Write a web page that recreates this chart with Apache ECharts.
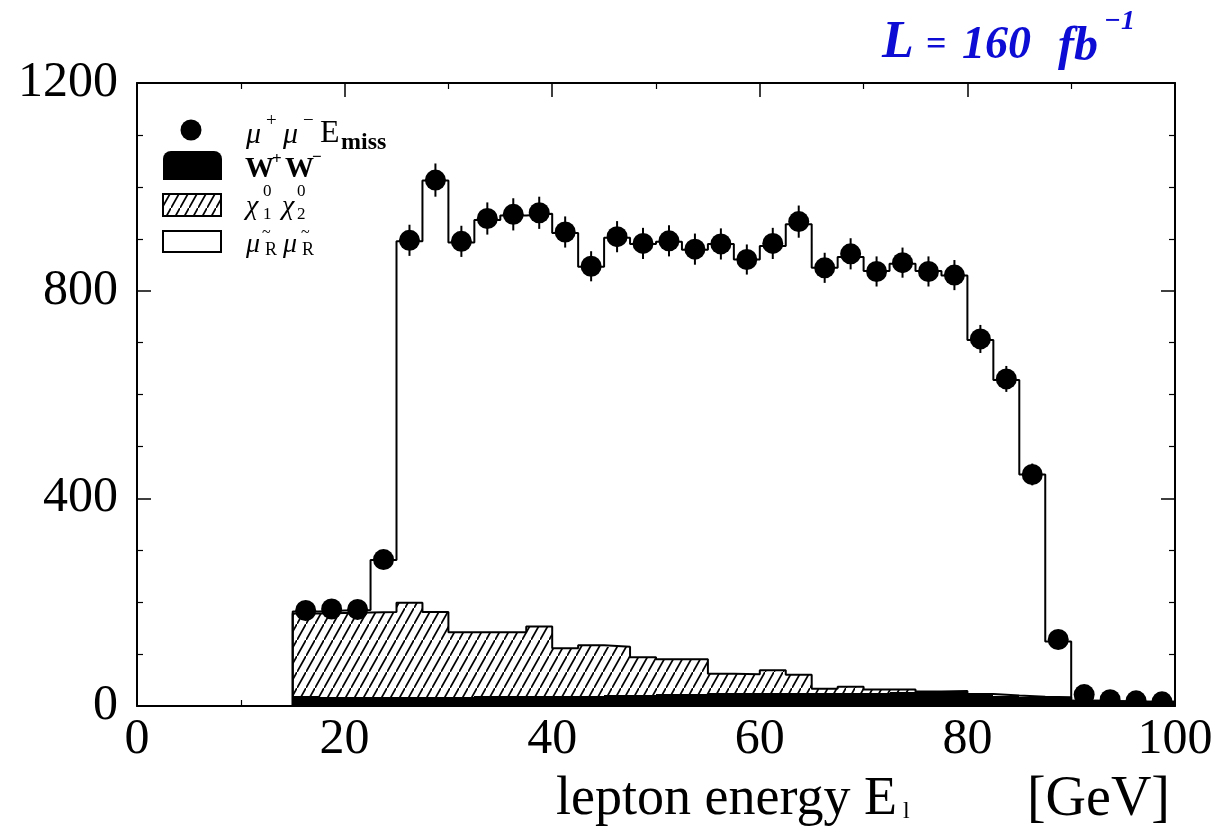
<!DOCTYPE html>
<html><head><meta charset="utf-8">
<script src="https://cdn.jsdelivr.net/npm/echarts@6/dist/echarts.min.js"></script>
<style>html,body{margin:0;padding:0;background:#fff}#c{width:1225px;height:835px}</style>
</head><body><div id="c"></div>
<script>
// ---- data (bins of 2.5 GeV, lower edges) ----
const binLow = [15, 17.5, 20, 22.5, 25, 27.5, 30, 32.5, 35, 37.5, 40, 42.5, 45, 47.5, 50, 52.5, 55, 57.5, 60, 62.5, 65, 67.5, 70, 72.5, 75, 77.5, 80, 82.5, 85, 87.5, 90, 92.5, 95, 97.5];
const binWidth = 2.5;
const wwCounts = [19, 18, 18, 18, 18, 18, 18, 19, 19, 19, 20, 20, 21, 22, 23, 24, 25, 26, 26, 26, 25, 26, 26, 27, 28, 29, 23, 20, 18, 17, 10, 9, 8, 8];
const chiCounts = [159, 161, 162, 163, 181, 163, 124, 123, 123, 134, 91, 97, 93, 72, 67, 66, 37, 35, 43, 34, 8, 11, 6, 5, 0, 0, 0, 0, 0, 0, 0, 0, 0, 0];
const smuonCounts = [4, 5, 5, 100, 696, 831, 751, 794, 803, 795, 800, 729, 788, 796, 804, 789, 828, 799, 817, 868, 811, 828, 806, 820, 810, 800, 682, 608, 428, 107, 0, 0, 0, 0];
const dataCounts = [184, 187, 186, 282, 897, 1013, 895, 939, 947, 950, 913, 847, 904, 891, 896, 880, 890, 860, 891, 933, 844, 871, 837, 854, 837, 830, 707, 630, 446, 128, 22, 12, 10, 8];
const dataErrors = [14, 14, 14, 17, 30, 32, 30, 31, 31, 31, 30, 29, 30, 30, 30, 30, 30, 29, 30, 31, 29, 30, 29, 29, 29, 29, 27, 25, 21, 11, 5, 4, 3, 3];
const xTicks = [0, 20, 40, 60, 80, 100];
const yTicks = [0, 400, 800, 1200];

// ---- derived stacks ----
const chiTop = wwCounts.map((w, i) => w + chiCounts[i]);
const totTop = chiTop.map((t, i) => t + smuonCounts[i]);

function rectData(base, top) {
  return binLow.map((lo, i) => [lo, lo + binWidth, base[i], top[i]]);
}
function stepPoints(top) {
  const pts = [[binLow[0], 0]];
  top.forEach((t, i) => { pts.push([binLow[i], t]); pts.push([binLow[i] + binWidth, t]); });
  return pts;
}

// hatch pattern
function makeHatch() {
  const c = document.createElement('canvas');
  const w = 9, h = 16;
  c.width = w; c.height = h;
  const g = c.getContext('2d');
  g.fillStyle = '#fff'; g.fillRect(0, 0, w, h);
  g.strokeStyle = '#000'; g.lineWidth = 1.8;
  g.beginPath(); g.moveTo(-w, 2 * h); g.lineTo(2 * w, -h); g.stroke();
  return c;
}
const hatch = { image: makeHatch(), repeat: 'repeat' };

function rectRender(fill) {
  return function (params, api) {
    const a = api.coord([api.value(0), api.value(2)]);
    const b = api.coord([api.value(1), api.value(3)]);
    const x0 = Math.round(a[0]), x1 = Math.round(b[0]);
    const y0 = Math.round(a[1]), y1 = Math.round(b[1]);
    if (y0 - y1 <= 0) return null;
    return { type: 'rect', shape: { x: x0, y: y1, width: x1 - x0, height: y0 - y1 }, style: { fill: fill } };
  };
}

const SERIF = '"Liberation Serif", "DejaVu Serif", serif';
const axisCommon = {
  axisLine: { show: true, onZero: false, lineStyle: { color: '#000', width: 2 } },
  axisTick: { show: true, inside: true, length: 14, lineStyle: { color: '#000', width: 1.5 } },
  minorTick: { show: true, length: 6, lineStyle: { color: '#000', width: 1.2 } },
  splitLine: { show: false }
};
const plainNum = v => String(v);

const chart = echarts.init(document.getElementById('c'), null, { renderer: 'canvas' });

function txt(text, x, y, size, opts) {
  opts = opts || {};
  return {
    type: 'text', x: x, y: y, silent: true,
    style: {
      text: text,
      font: (opts.style || 'normal') + ' ' + (opts.weight || 'normal') + ' ' + size + 'px ' + (opts.family || SERIF),
      fill: opts.color || '#000',
      textAlign: opts.align || 'left',
      textVerticalAlign: 'middle',
      verticalAlign: 'middle'
    }
  };
}

const BLUE = '#0c0cd4';
const legendGraphic = [
  { type: 'circle', shape: { cx: 191, cy: 130, r: 10.5 }, style: { fill: '#000' } },
  { type: 'rect', shape: { x: 163, y: 151, width: 59, height: 29, r: [8, 8, 0, 0] }, style: { fill: '#000' } },
  { type: 'rect', shape: { x: 163, y: 194, width: 58, height: 22 }, style: { fill: hatch, stroke: '#000', lineWidth: 2 } },
  { type: 'rect', shape: { x: 163, y: 231, width: 58, height: 21 }, style: { fill: '#fff', stroke: '#000', lineWidth: 2 } },
  // mu+ mu- E_miss
  txt('\u03bc', 246, 135, 30, { style: 'italic' }),
  txt('+', 266, 121, 19),
  txt('\u03bc', 283, 135, 30, { style: 'italic' }),
  txt('\u2212', 303, 121, 19),
  txt('E', 320, 134, 32),
  txt('miss', 341, 143, 24, { weight: 'bold' }),
  // W+W-
  txt('W', 245, 170, 29, { weight: 'bold' }),
  txt('+', 272, 160, 17, { weight: 'bold' }),
  txt('W', 285, 170, 29, { weight: 'bold' }),
  txt('\u2212', 312, 158, 17, { weight: 'bold' }),
  // chi chi
  txt('\u03c7', 246, 207, 28, { style: 'italic' }),
  txt('0', 263, 192, 17),
  txt('1', 263, 215, 17),
  txt('\u03c7', 282, 207, 28, { style: 'italic' }),
  txt('0', 297, 192, 17),
  txt('2', 297, 215, 17),
  // smuon smuon
  txt('~', 262, 233, 16),
  txt('\u03bc', 246, 245, 28, { style: 'italic' }),
  txt('R', 265, 250, 18),
  txt('~', 301, 233, 16),
  txt('\u03bc', 283, 245, 28, { style: 'italic' }),
  txt('R', 302, 250, 18),
  // luminosity annotation
  txt('L', 882, 44, 52, { style: 'italic', weight: 'bold', color: BLUE }),
  txt('=', 926, 46, 36, { weight: 'bold', color: BLUE }),
  txt('160', 962, 46, 46, { style: 'italic', weight: 'bold', color: BLUE }),
  txt('fb', 1058, 48, 48, { style: 'italic', weight: 'bold', color: BLUE }),
  txt('\u22121', 1104, 22, 28, { style: 'italic', weight: 'bold', color: BLUE }),
  // axis title
  txt('lepton energy E', 556, 800, 54),
  txt('l', 903, 812, 24),
  txt('[GeV]', 1170, 800, 56, { align: 'right' })
];

const option = {
  animation: false,
  backgroundColor: '#fff',
  grid: { left: 137, right: 50, top: 83, bottom: 129, show: false },
  xAxis: [
    Object.assign({}, axisCommon, {
      type: 'value', min: xTicks[0], max: xTicks[xTicks.length - 1], interval: 20, position: 'bottom',
      minorTick: Object.assign({}, axisCommon.minorTick, { splitNumber: 2 }),
      axisLabel: { show: true, fontSize: 50, fontFamily: SERIF, color: '#000', margin: 9, formatter: plainNum }
    }),
    Object.assign({}, axisCommon, {
      type: 'value', min: xTicks[0], max: xTicks[xTicks.length - 1], interval: 20, position: 'top',
      minorTick: Object.assign({}, axisCommon.minorTick, { splitNumber: 2 }),
      axisLabel: { show: false }
    })
  ],
  yAxis: [
    Object.assign({}, axisCommon, {
      type: 'value', min: yTicks[0], max: yTicks[yTicks.length - 1], interval: 400, position: 'left',
      minorTick: Object.assign({}, axisCommon.minorTick, { splitNumber: 4 }),
      axisLabel: { show: true, fontSize: 50, fontFamily: SERIF, color: '#000', margin: 19, formatter: plainNum }
    }),
    Object.assign({}, axisCommon, {
      type: 'value', min: yTicks[0], max: yTicks[yTicks.length - 1], interval: 400, position: 'right',
      minorTick: Object.assign({}, axisCommon.minorTick, { splitNumber: 4 }),
      axisLabel: { show: false }
    })
  ],
  series: [
    {
      name: 'W+W-', type: 'custom', xAxisIndex: 0, yAxisIndex: 0, z: 3, clip: true,
      data: rectData(binLow.map(() => 0), wwCounts),
      encode: { x: [0, 1], y: [2, 3] },
      renderItem: rectRender('#000')
    },
    {
      name: 'chi chi', type: 'custom', xAxisIndex: 0, yAxisIndex: 0, z: 3, clip: true,
      data: rectData(wwCounts, chiTop),
      encode: { x: [0, 1], y: [2, 3] },
      renderItem: rectRender(hatch)
    },
    {
      name: 'smuon smuon', type: 'custom', xAxisIndex: 0, yAxisIndex: 0, z: 3, clip: true,
      data: rectData(chiTop, totTop),
      encode: { x: [0, 1], y: [2, 3] },
      renderItem: rectRender('#fff')
    },
    {
      name: 'chi outline', type: 'line', z: 4, clip: true, showSymbol: false, symbol: 'none',
      data: stepPoints(chiTop), lineStyle: { color: '#000', width: 2 }
    },
    {
      name: 'total outline', type: 'line', z: 4, clip: true, showSymbol: false, symbol: 'none',
      data: stepPoints(totTop), lineStyle: { color: '#000', width: 2 }
    },
    {
      name: 'data', type: 'custom', z: 5, clip: true,
      data: binLow.map((lo, i) => [lo + binWidth / 2, dataCounts[i], dataErrors[i]]),
      encode: { x: 0, y: 1 },
      renderItem: function (params, api) {
        const x = api.value(0), y = api.value(1), e = api.value(2);
        const c = api.coord([x, y]);
        const lo = api.coord([x, y - e]);
        const hi = api.coord([x, y + e]);
        return {
          type: 'group', children: [
            { type: 'line', shape: { x1: c[0], y1: lo[1], x2: c[0], y2: hi[1] }, style: { stroke: '#000', lineWidth: 2 } },
            { type: 'circle', shape: { cx: c[0], cy: c[1], r: 10.5 }, style: { fill: '#000' } }
          ]
        };
      }
    }
  ],
  graphic: legendGraphic
};
chart.setOption(option);
</script>
</body></html>
